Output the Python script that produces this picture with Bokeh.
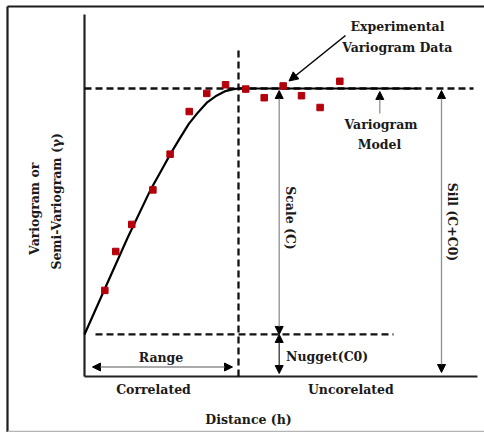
from math import pi

from bokeh.core.properties import value
from bokeh.embed import file_html
from bokeh.models import Arrow, NormalHead, Range1d
from bokeh.plotting import figure
from bokeh.resources import INLINE

# --- variogram values -------------------------------------------------------
nugget = 0.146          # C0
sill = 1.0              # C + C0
range_a = 10.0          # distance where the model reaches the sill

# experimental semi-variogram (lag distance, gamma)
lag_h = [1.32, 2.03, 3.07, 4.44, 5.56, 6.80, 7.94, 9.16, 10.47, 11.67, 12.90, 14.09, 15.30, 16.58]
gamma_obs = [0.299, 0.434, 0.528, 0.648, 0.772, 0.920, 0.983, 1.013, 0.998, 0.968, 1.009, 0.975, 0.934, 1.025]

# fitted variogram model
model_h = [0.0, 1.299, 2.792, 4.286, 4.935, 5.584, 6.169, 6.773, 7.370, 7.968, 8.571, 9.156, 9.610, 10.0, 21.62]
model_gamma = [0.146, 0.302, 0.481, 0.648, 0.710, 0.773, 0.825, 0.877, 0.917, 0.952, 0.975, 0.991, 0.997, 1.0, 1.0]

# --- canvas geometry (pixels of the page -> data units) ----------------------
W, H = 484, 432
X0, Y0 = 84, 376            # where the axes cross
SX, SY = 15.4, 288.0        # pixels per data unit


def X(px):
    return (px - X0) / SX


def Y(py):
    return (Y0 - py) / SY


p = figure(width=W, height=H, output_backend="svg", toolbar_location=None,
           x_range=Range1d(X(0), X(W)), y_range=Range1d(Y(H), Y(0)),
           x_axis_location=None, y_axis_location=None, min_border=0)
p.grid.visible = False
p.outline_line_color = None
p.background_fill_color = "white"
p.border_fill_color = "white"

# picture frame
p.segment(x0=[X(7), X(7)], y0=[Y(6), Y(6)], x1=[X(W), X(7)], y1=[Y(6), Y(H)],
          line_color="#1c1c1c", line_width=2.2)
p.segment(x0=[X(7)], y0=[Y(431)], x1=[X(W)], y1=[Y(431)], line_color="#b5b5b5", line_width=1.5)

# axes drawn as plain lines
x_end = X(477)
y_top = Y(14)
p.segment(x0=[0, 0], y0=[0, 0], x1=[x_end, 0], y1=[0, y_top], line_color="#222222", line_width=2.2)

# reference lines: sill, nugget and range
dash = "7 4"
p.line([0, X(473)], [sill, sill], line_color="#111111", line_width=2.3, line_dash=dash)
p.line([X(95), X(393)], [nugget, nugget], line_color="#111111", line_width=2.3, line_dash=dash)
p.line([range_a, range_a], [0, Y(49)], line_color="#111111", line_width=2.3, line_dash=dash)

# model and observations
p.line(model_h, model_gamma, line_color="black", line_width=2.2, line_join="round")
p.scatter(lag_h, gamma_obs, marker="square", size=6.5, fill_color="#b3000b", line_color="#b3000b")

# annotation arrows
def head(sz=8):
    return NormalHead(size=sz, fill_color="black", line_color="black", line_width=1)


grey = "#8f8f8f"
xs_scale = X(278.7)
arrows = [
    # Range
    dict(x_start=X(92), y_start=Y(366.5), x_end=X(232), y_end=Y(366.5), c=grey),
    # Scale (C)
    dict(x_start=xs_scale, y_start=Y(90), x_end=xs_scale, y_end=nugget, c=grey),
    # Nugget (C0)
    dict(x_start=xs_scale, y_start=nugget, x_end=xs_scale, y_end=Y(373), c="#333333"),
    # Sill (C+C0)
    dict(x_start=X(441), y_start=Y(90), x_end=X(441), y_end=Y(372), c=grey),
]
for a in arrows:
    p.add_layout(Arrow(x_start=a["x_start"], y_start=a["y_start"], x_end=a["x_end"], y_end=a["y_end"],
                       start=head(), end=head(), line_color=a["c"], line_width=1.3))

# Variogram model pointer
p.add_layout(Arrow(x_start=X(379.3), y_start=Y(113), x_end=X(379.3), y_end=Y(91),
                   end=head(), line_color=grey, line_width=1.3))
# Experimental data pointer
p.add_layout(Arrow(x_start=X(345), y_start=Y(35), x_end=X(288.5), y_end=Y(80.5),
                   end=head(9), line_color="black", line_width=1.5))

# labels
font = value("DejaVu Serif")
labels = [
    ("Experimental", 397, 26, 0),
    ("Variogram Data", 396.7, 46.5, 0),
    ("Variogram", 380.5, 123.5, 0),
    ("Model", 379, 143.5, 0),
    ("Range", 160.5, 356.5, 0),
    ("Correlated", 153, 389, 0),
    ("Uncorelated", 350.3, 389, 0),
    ("Distance (h)", 248, 419, 0),
    ("Scale (C)", 290, 217.5, -pi / 2),
    ("Sill (C+C0)", 452, 221.5, -pi / 2),
    ("Variogram or", 33.5, 208.3, pi / 2),
    ("Semi-Variogram (\u03b3)", 55.7, 200.8, pi / 2),
]
for txt, px, py, ang in labels:
    p.text(x=[X(px)], y=[Y(py)], text=[txt], angle=ang, text_align="center", text_baseline="middle",
           text_font=font, text_font_style="bold", text_font_size="12.5px", text_color="#1a1a1a")

p.text(x=[X(285.5)], y=[Y(355.5)], text=["Nugget(C0)"], text_align="left", text_baseline="middle",
       text_font=font, text_font_style="bold", text_font_size="12.5px", text_color="#1a1a1a")

open("out.html", "w").write(file_html(p, INLINE))
